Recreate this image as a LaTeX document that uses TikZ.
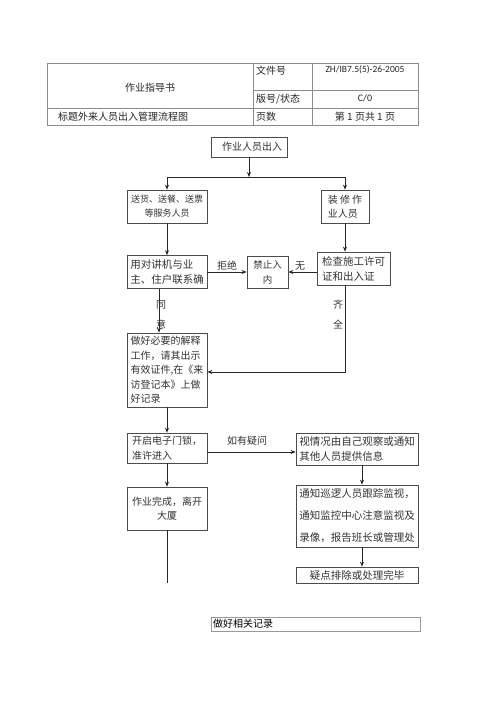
\documentclass[tikz,border=0pt]{standalone}
\usepackage{fontspec}
\setmainfont{Noto Sans CJK SC}
\newfontfamily\latfont{Carlito}
\usetikzlibrary{arrows.meta}
\begin{document}
\begin{tikzpicture}[x=1pt,y=-1pt,
  tline/.style={draw=black!45, line width=0.6pt},
  tcell/.style={inner sep=0pt, font=\fontsize{10}{12}\selectfont, text=black!85},
  box/.style={draw=black!70, line width=0.7pt, inner sep=1pt, align=left,
              font=\fontsize{10}{14.5}\selectfont, text=black!80},
  lbl/.style={inner sep=0pt, font=\fontsize{10}{12}\selectfont, text=black!80, align=center},
  conn/.style={draw=black!85, line width=0.8pt},
  arr/.style={conn, -{Stealth[length=5pt,width=4pt]}}]
\useasboundingbox (0,0) rectangle (500,707);
\fill[white] (0,0) rectangle (500,707);

% ---------- header table ----------
\draw[tline] (47,63) rectangle (418,125);
\draw[tline] (47,108) -- (418,108);
\draw[tline] (253,90) -- (418,90);
\draw[tline] (253,63) -- (253,125);
\draw[tline] (312,63) -- (312,125);
\node[tcell] (t1) at (150,88) {作业指导书};
\node[tcell, anchor=west] (t2) at (256,71) {文件号};
\node[tcell, font=\latfont\fontsize{9.5}{11}\selectfont] (t3) at (365,70) {ZH/IB7.5(5)-26-2005};
\node[tcell, anchor=west] (t4) at (256,99) {版号/状态};
\node[tcell, font=\latfont\fontsize{10}{12}\selectfont] (t5) at (365,98) {C/0};
\node[tcell, anchor=west] (t6) at (58,116.5) {标题外来人员出入管理流程图};
\node[tcell, anchor=west] (t7) at (256,116.5) {页数};
\node[tcell] (t8) at (365,116.5) {第 1 页共 1 页};

% ---------- flowchart boxes ----------
\node[box, minimum width=76, minimum height=20] (start) at (249,147) {\hspace{6pt}作业人员出入};
\node[box, minimum width=80, minimum height=33, align=center, font=\fontsize{9}{14}\selectfont] (b1) at (167,206.5) {送货、送餐、送票\\等服务人员};
\node[box, minimum width=48, minimum height=33] (b2) at (345,206.5) {装 修 作\\业人员};
\node[box, minimum width=80, minimum height=33, font=\fontsize{10.5}{15}\selectfont] (b3) at (167,272) {用对讲机与业\\主、住户联系确};
\node[box, minimum width=41, minimum height=32, align=center, font=\fontsize{9.5}{15}\selectfont] (b4) at (267.5,272) {禁止入\\内};
\node[box, minimum width=73, minimum height=33, font=\fontsize{10.5}{15}\selectfont] (b5) at (353.5,268.5) {检查施工许可\\证和出入证};
\node[box, minimum width=80, minimum height=74] (b6) at (167,370) {做好必要的解释\\工作，请其出示\\有效证件,在《来\\访登记本》上做\\好记录};
\node[box, minimum width=80, minimum height=30] (b7) at (167,448) {开启电子门锁，\\准许进入};
\node[box, minimum width=80, minimum height=43, align=center] (b8) at (167,508.5) {作业完成，离开\\大厦};
\node[box, minimum width=122, minimum height=32, font=\fontsize{10.5}{14.5}\selectfont] (b9) at (357,449) {视情况由自己观察或通知\\其他人员提供信息};
\node[box, minimum width=122, minimum height=62, font=\fontsize{10.5}{22}\selectfont] (b10) at (357,516) {通知巡逻人员跟踪监视，\\通知监控中心注意监视及\\录像，报告班长或管理处};
\node[box, minimum width=122, minimum height=16, inner sep=0pt, font=\fontsize{10.5}{12}\selectfont] (b11) at (357,575) {疑点排除或处理完毕};
\node[draw=black!40, line width=0.6pt, minimum height=14, text width=205pt, inner xsep=2pt, inner ysep=0pt,
      align=left, font=\fontsize{10}{12}\selectfont, text=black] (rec) at (315.5,624) {做好相关记录};

% ---------- connectors ----------
\coordinate (bar) at (249,177);
\coordinate (barL) at (167,177);
\coordinate (barR) at (345,177);
\coordinate (ok) at (345,372);
\coordinate (endL) at (167,583);

\draw[arr] (start) -- (bar);
\draw[conn] (barL) -- (barR);
\draw[arr] (barL) -- (b1);
\draw[arr] (barR) -- (b2);
\draw[arr] (b1) -- (b3);
\draw[arr] (b2.south) -- (b2.south |- b5.north);
\draw[arr] (b3.east |- b4) -- (b4.west);
\draw[arr] (b5.west |- b4) -- (b4.east);
\draw[arr] ([xshift=-8pt]b3.south) -- ([xshift=-8pt]b6.north);
\draw[arr] (b2.south |- b5.south) -- (ok) -- (ok -| b6.east);
\draw[arr] (b6) -- (b7);
\draw[arr] ([yshift=-4pt]b7.east) -- ([yshift=-4pt]b7.east -| b9.west);
\draw[arr] (b7) -- (b8);
\draw[arr] ([xshift=5pt]b9.south) -- ([xshift=5pt]b10.north);
\draw[arr] ([xshift=5pt]b10.south) -- ([xshift=5pt]b11.north);
\draw[conn] (b8.south) -- (endL);

% ---------- labels ----------
\node[lbl] (lrefuse) at (227,266) {拒绝};
\node[lbl] (lnone) at (300,266) {无};
\node[lbl] (lagree) at (161,315) {同\\[8pt]意};
\node[lbl] (lall) at (338,315) {齐\\[8pt]全};
\node[lbl] (ldoubt) at (247,441) {如有疑问};
\end{tikzpicture}
\end{document}
